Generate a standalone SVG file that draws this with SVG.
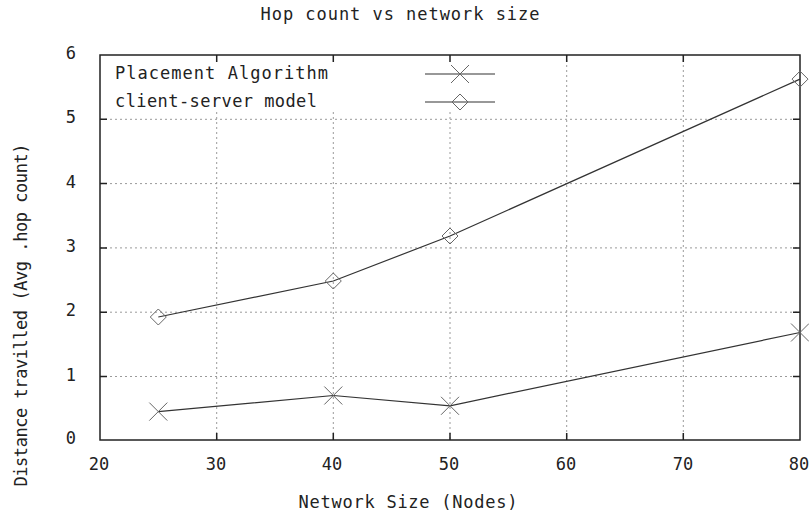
<svg xmlns="http://www.w3.org/2000/svg" width="809" height="516" viewBox="0 0 809 516">
  <style>
    text { font-family: "DejaVu Sans Mono", "Liberation Mono", monospace; font-size: 17px; fill: #222; }
    .grid { stroke: #9a9a9a; stroke-width: 1; stroke-dasharray: 2 3; fill: none; }
    .frame { stroke: #222; stroke-width: 1.5; fill: none; }
    .tick { stroke: #222; stroke-width: 1.5; }
    .series { stroke: #333; stroke-width: 1.2; fill: none; }
    .mark { stroke: #666; stroke-width: 1; fill: none; }
    .ylab { text-anchor: end; }
    .xlab { text-anchor: middle; }
  </style>
  <defs>
    <path id="cross" class="mark" d="M-9,-9 L9,9 M-9,9 L9,-9"/>
    <path id="diamond" class="mark" d="M0,-8 L8,0 L0,8 L-8,0 Z"/>
  </defs>

  <rect width="809" height="516" fill="#fff"/>

  <text id="title" x="400" y="20" text-anchor="middle" textLength="279" lengthAdjust="spacing">Hop count vs network size</text>

  <!-- grid -->
  <g id="grid">
    <path class="grid" d="M100,119.3 H800 M100,183.6 H800 M100,247.9 H800 M100,312.2 H800 M100,376.5 H800"/>
    <path class="grid" d="M216.7,112 V440 M333.3,112 V440 M450,112 V440 M566.7,55 V440 M683.3,55 V440"/>
  </g>

  <!-- frame and ticks -->
  <g id="axes">
    <rect class="frame" x="100" y="55" width="700" height="385"/>
    <path class="tick" d="M100,119.3 h7 M100,183.6 h7 M100,247.9 h7 M100,312.2 h7 M100,376.5 h7
                          M800,119.3 h-7 M800,183.6 h-7 M800,247.9 h-7 M800,312.2 h-7 M800,376.5 h-7
                          M216.7,440 v-7 M333.3,440 v-7 M450,440 v-7 M566.7,440 v-7 M683.3,440 v-7
                          M216.7,55 v7 M333.3,55 v7 M450,55 v7 M566.7,55 v7 M683.3,55 v7"/>
  </g>

  <!-- tick labels -->
  <g id="y-ticks">
    <text class="ylab" x="76" y="59">6</text>
    <text class="ylab" x="76" y="123">5</text>
    <text class="ylab" x="76" y="188">4</text>
    <text class="ylab" x="76" y="252">3</text>
    <text class="ylab" x="76" y="316">2</text>
    <text class="ylab" x="76" y="381">1</text>
    <text class="ylab" x="76" y="444">0</text>
  </g>
  <g id="x-ticks">
    <text class="xlab" x="99" y="470">20</text>
    <text class="xlab" x="216" y="470">30</text>
    <text class="xlab" x="332" y="470">40</text>
    <text class="xlab" x="449" y="470">50</text>
    <text class="xlab" x="566" y="470">60</text>
    <text class="xlab" x="683" y="470">70</text>
    <text class="xlab" x="799" y="470">80</text>
  </g>

  <text id="x-title" x="408" y="508" text-anchor="middle" textLength="219" lengthAdjust="spacing">Network Size (Nodes)</text>
  <text id="y-title" transform="translate(27,315) rotate(-90)" text-anchor="middle" textLength="343" lengthAdjust="spacing">Distance travilled (Avg .hop count)</text>

  <!-- data series -->
  <g id="connectors">
    <polyline id="placement-line" class="series" points="158.3,411.6 333.3,395.5 450,405.8 800,332.5"/>
    <polyline id="client-server-line" class="series" points="158.3,317 333.3,281 450,236 800,79.1"/>
  </g>
  <g id="placement-points">
    <use href="#cross" x="158.3" y="411.6"/>
    <use href="#cross" x="333.3" y="395.5"/>
    <use href="#cross" x="450" y="405.8"/>
    <use href="#cross" x="800" y="332.5"/>
  </g>
  <g id="client-server-points">
    <use href="#diamond" x="158.3" y="317"/>
    <use href="#diamond" x="333.3" y="281"/>
    <use href="#diamond" x="450" y="236"/>
    <use href="#diamond" x="800" y="79.1"/>
  </g>

  <!-- key -->
  <g id="legend">
    <g id="legend-placement">
      <text x="115" y="79" textLength="213" lengthAdjust="spacing">Placement Algorithm</text>
      <path class="series" d="M425,74 H495"/>
      <use href="#cross" x="460" y="74"/>
    </g>
    <g id="legend-client-server">
      <text x="115" y="107" textLength="202" lengthAdjust="spacing">client-server model</text>
      <path class="series" d="M425,102 H495"/>
      <use href="#diamond" x="460" y="102"/>
    </g>
  </g>
</svg>
